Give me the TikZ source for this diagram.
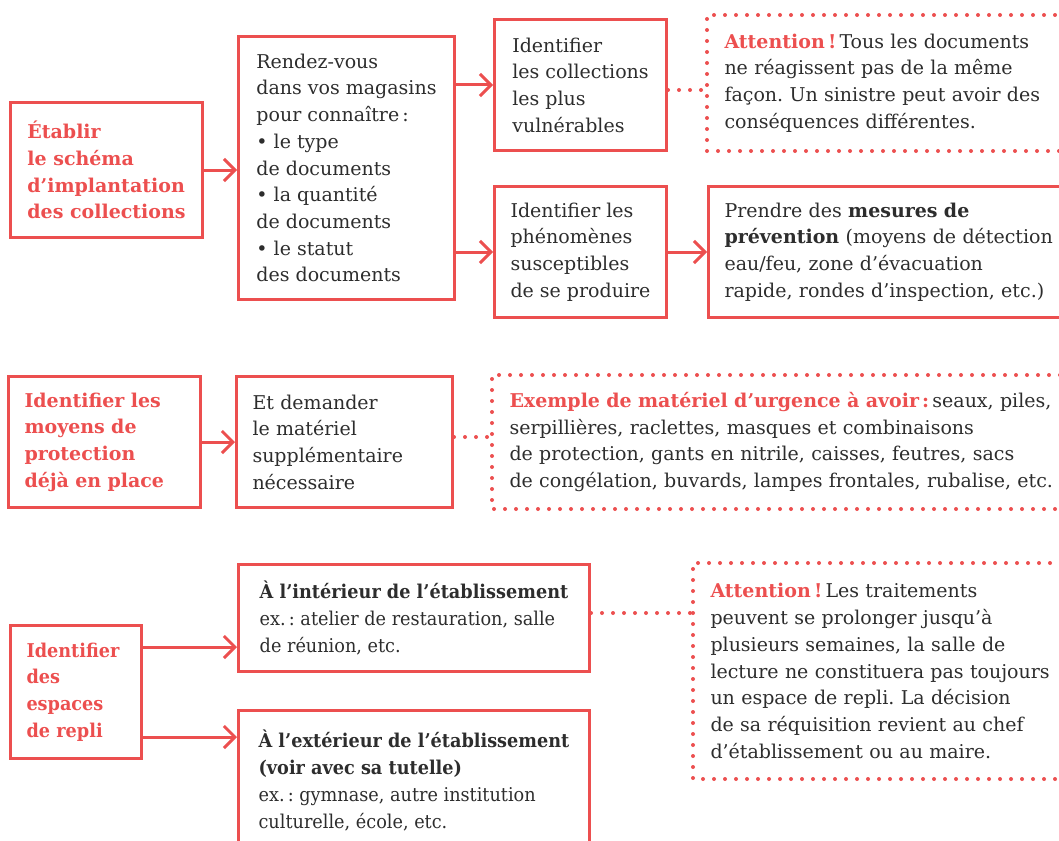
\documentclass[tikz,border=0pt]{standalone}
\usepackage{fontspec}
\setmainfont{DejaVu Serif}
\newfontfamily\estrecha{DejaVu Serif}[FakeStretch=0.93]
\usepackage{tikz}
\usetikzlibrary{arrows.meta}
\definecolor{rojo}{RGB}{236,79,79}
\definecolor{gris}{RGB}{45,45,45}
\frenchspacing

\begin{document}
\begin{tikzpicture}[x=1pt, y=1pt,
    caja/.style={draw=rojo, line width=3pt, anchor=north west, align=left,
        inner xsep=16pt, inner ysep=4pt, text=gris,
        font={\fontsize{19}{26.7}\selectfont}},
    puntos/.style={draw=rojo, line width=4pt, line cap=round, dash pattern=on 0pt off 11pt},
    cajapuntos/.style={caja, draw=none},
    flecha/.style={draw=rojo, line width=3pt, -{Straight Barb[length=11pt,width=22pt]}},
    titulo/.style={text=rojo, font={\fontsize{19}{26.7}\selectfont\bfseries}}]
    \useasboundingbox (0,0) rectangle (1059,-840);

    % Primera fila
    \node[caja, titulo, minimum width=192pt, minimum height=135pt] (etablir) at (9,-101)
        {Établir\\le schéma\\d’implantation\\des collections};
    \node[caja, minimum width=216pt, minimum height=263pt] (magasins) at (237,-35)
        {Rendez-vous\\dans vos magasins\\pour connaître\,:\\• le type\\de documents\\• la quantité\\de documents\\• le statut\\des documents};
    \node[caja, minimum width=172pt, minimum height=131pt] (vulnerables) at (493,-18)
        {Identifier\\les collections\\les plus\\vulnérables};
    \node[cajapuntos, text width=368pt, minimum height=133pt] (attention1) at (707,-15)
        {\textcolor{rojo}{\bfseries Attention\,!}\,Tous les documents\\ne réagissent pas de la même\\façon. Un sinistre peut avoir des\\conséquences différentes.};
    \node[caja, minimum width=172pt, minimum height=131pt] (phenomenes) at (493,-185)
        {Identifier les\\phénomènes\\susceptibles\\de se produire};
    \node[caja, text width=368pt, minimum height=131pt] (prevention) at (707,-185)
        {Prendre des \textbf{mesures de}\\\textbf{prévention} (moyens de détection\\eau/feu, zone d’évacuation\\rapide, rondes d’inspection, etc.)};

    % Segunda fila
    \node[caja, titulo, text width=160pt, minimum height=131pt] (moyens) at (7,-375)
        {Identifier les\\moyens de\\protection\\déjà en place};
    \node[caja, text width=184pt, minimum height=131pt] (demander) at (235,-375)
        {Et demander\\le matériel\\supplémentaire\\nécessaire};
    \node[cajapuntos, text width=588pt, minimum height=131pt] (materiel) at (492,-375)
        {\textcolor{rojo}{\bfseries Exemple de matériel d’urgence à avoir\,:}\,seaux, piles,\\serpillières, raclettes, masques et combinaisons\\de protection, gants en nitrile, caisses, feutres, sacs\\de congélation, buvards, lampes frontales, rubalise, etc.};

    % Tercera fila
    \node[caja, titulo, font={\fontsize{19}{26.7}\estrecha\bfseries}, text width=99pt, minimum height=133pt] (repli) at (9,-624)
        {Identifier\\des\\espaces\\de repli};
    \node[caja, font={\fontsize{19}{26.7}\estrecha}, minimum width=351pt, minimum height=107pt] (interieur) at (237,-563)
        {\textbf{À l’intérieur de l’établissement}\\ex.\,: atelier de restauration, salle\\de réunion, etc.};
    \node[caja, font={\fontsize{19}{26.7}\estrecha}, minimum width=351pt, minimum height=140pt] (exterieur) at (237,-709)
        {\textbf{À l’extérieur de l’établissement}\\\textbf{(voir avec sa tutelle)}\\ex.\,: gymnase, autre institution\\culturelle, école, etc.};
    \node[cajapuntos, text width=388pt, minimum height=213pt] (attention2) at (693,-563)
        {\textcolor{rojo}{\bfseries Attention\,!}\,Les traitements\\peuvent se prolonger jusqu’à\\plusieurs semaines, la salle de\\lecture ne constituera pas toujours\\un espace de repli. La décision\\de sa réquisition revient au chef\\d’établissement ou au maire.};

    % Cajas punteadas
    \draw[puntos] (attention1.north east) -- (attention1.north west) -- (attention1.south west) -- (attention1.south east);
    \draw[puntos] (materiel.north east) -- (materiel.north west) -- (materiel.south west) -- (materiel.south east);
    \draw[puntos] (attention2.north east) -- (attention2.north west) -- (attention2.south west) -- (attention2.south east);

    % Flechas
    \draw[flecha] (etablir.east) -- (etablir.east -| magasins.west);
    \draw[flecha] (magasins.east |- vulnerables.west) -- (vulnerables.west);
    \draw[flecha] (magasins.east |- phenomenes.west) -- (phenomenes.west);
    \draw[flecha] (phenomenes.east) -- (prevention.west);
    \draw[flecha] (moyens.east) -- (demander.west);
    \coordinate (r1) at ([yshift=45pt]repli.east);
    \coordinate (r2) at ([yshift=-45pt]repli.east);
    \draw[flecha] (r1) -- (r1 -| interieur.west);
    \draw[flecha] (r2) -- (r2 -| exterieur.west);

    % Líneas punteadas
    \draw[puntos] ([yshift=-5pt]vulnerables.east) -- ([yshift=-5pt]vulnerables.east -| attention1.west);
    \draw[puntos] ([yshift=5pt]demander.east) -- ([yshift=5pt]demander.east -| materiel.west);
    \draw[puntos] ([yshift=5pt]interieur.east) -- ([yshift=5pt]interieur.east -| attention2.west);
\end{tikzpicture}
\end{document}
